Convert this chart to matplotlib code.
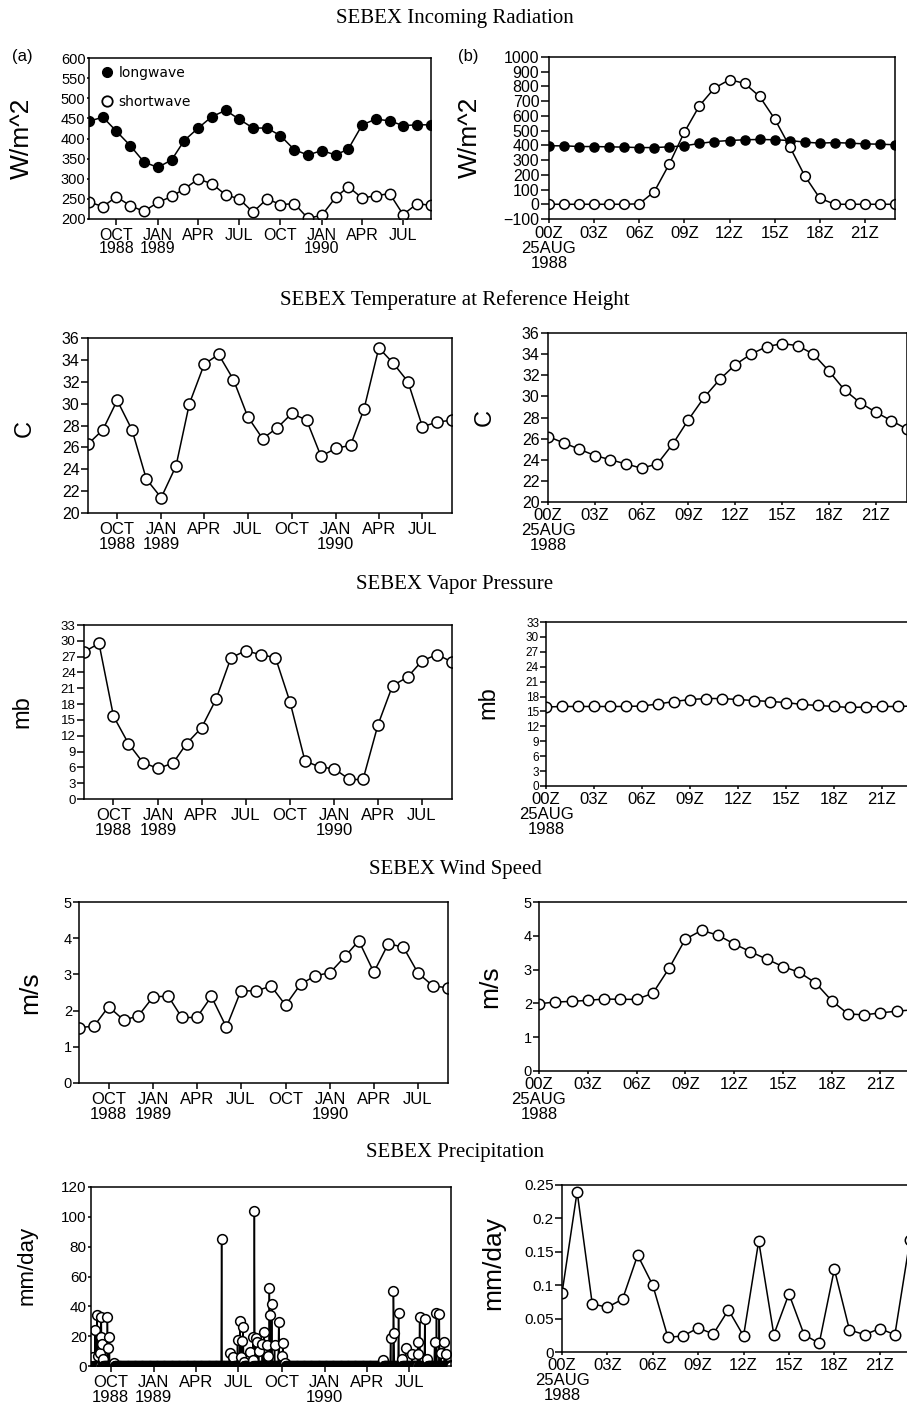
import numpy as np
import matplotlib.pyplot as plt
from matplotlib.lines import Line2D
from matplotlib.ticker import FuncFormatter

W, H = 907, 1411

plt.rcParams['font.family'] = ['Liberation Sans', 'DejaVu Sans']

# monthly means, Aug 1988 - Sep 1990
months = np.arange('1988-08', '1990-10', dtype='datetime64[M]').astype('datetime64[D]')
# hourly means for 25 Aug 1988
hours = np.arange(24)

longwave_mon = [443, 453, 418, 382, 342, 328, 347, 395, 426, 454, 470, 448, 426,
                426, 407, 372, 359, 370, 359, 374, 434, 448, 444, 432, 434, 434]
shortwave_mon = [242, 231, 255, 233, 219, 241, 256, 275, 299, 288, 260, 250, 217,
                 250, 236, 238, 202, 209, 254, 280, 252, 258, 263, 211, 238, 234]
longwave_hr = [397, 397, 392, 392, 390, 388, 385, 385, 390, 397, 413, 426,
               433, 438, 440, 438, 433, 422, 415, 419, 415, 410, 408, 404]
shortwave_hr = [0, 0, 0, 0, 0, 0, 3, 86, 274, 490, 669, 789,
                846, 821, 732, 580, 392, 193, 41, 0, 0, 0, 0, 0]

temp_mon = [26.3, 27.6, 30.3, 27.6, 23.1, 21.4, 24.3, 30.0, 33.6, 34.5, 32.2, 28.8, 26.8,
            27.8, 29.1, 28.5, 25.2, 25.9, 26.2, 29.5, 35.1, 33.7, 32.0, 27.9, 28.3, 28.5]
temp_hr = [26.2, 25.6, 25.0, 24.4, 24.0, 23.6, 23.2, 23.6, 25.5, 27.8, 29.9, 31.6,
           33.0, 34.0, 34.7, 35.0, 34.8, 34.0, 32.4, 30.6, 29.4, 28.5, 27.7, 26.9]

vapor_mon = [27.9, 29.5, 15.7, 10.5, 6.9, 5.8, 6.8, 10.5, 13.5, 18.9, 26.8, 28.1, 27.4,
             26.8, 18.4, 7.2, 6.1, 5.7, 3.7, 3.7, 14.1, 21.5, 23.1, 26.2, 27.4, 26.0]
vapor_hr = [15.9, 16.0, 16.0, 16.0, 16.0, 16.0, 16.1, 16.5, 17.0, 17.4, 17.6, 17.6,
            17.4, 17.2, 17.0, 16.8, 16.4, 16.2, 16.0, 15.8, 15.9, 16.0, 16.0, 16.1]

wind_mon = [1.53, 1.57, 2.11, 1.74, 1.85, 2.38, 2.40, 1.81, 1.81, 2.39, 1.54, 2.55, 2.54,
            2.68, 2.15, 2.73, 2.96, 3.05, 3.50, 3.93, 3.06, 3.85, 3.75, 3.04, 2.68, 2.63]
wind_hr = [1.99, 2.04, 2.06, 2.09, 2.13, 2.12, 2.12, 2.30, 3.04, 3.90, 4.16, 4.02,
           3.76, 3.53, 3.31, 3.09, 2.92, 2.61, 2.08, 1.69, 1.66, 1.72, 1.77, 1.81]

precip_hr = [0.088, 0.240, 0.072, 0.067, 0.079, 0.145, 0.100, 0.022, 0.024, 0.036, 0.027, 0.063,
             0.024, 0.166, 0.026, 0.087, 0.026, 0.013, 0.124, 0.033, 0.026, 0.035, 0.026, 0.168]

# daily rain events (all other days dry)
rain_dates = ['1988-08-25', '1988-08-29', '1988-09-02', '1988-09-05', '1988-09-09', '1988-09-10',
              '1988-09-11', '1988-09-13', '1988-09-14', '1988-09-24', '1988-09-25', '1988-09-28',
              '1988-10-09',
              '1989-05-26', '1989-06-12', '1989-06-20', '1989-06-29', '1989-07-04', '1989-07-06',
              '1989-07-08', '1989-07-11', '1989-07-12', '1989-07-25', '1989-07-31', '1989-08-01',
              '1989-08-04', '1989-08-08', '1989-08-10', '1989-08-13', '1989-08-21', '1989-08-25',
              '1989-09-01', '1989-09-02', '1989-09-05', '1989-09-07', '1989-09-10', '1989-09-16',
              '1989-09-25', '1989-10-03', '1989-10-04', '1989-10-09',
              '1990-05-06', '1990-05-22', '1990-05-28', '1990-05-29', '1990-06-08', '1990-06-15',
              '1990-06-23', '1990-07-07', '1990-07-19', '1990-07-20', '1990-07-23', '1990-08-03',
              '1990-08-08', '1990-08-24', '1990-08-28', '1990-09-03', '1990-09-06', '1990-09-14',
              '1990-09-18', '1990-09-27']
rain_mm = [6, 24, 34, 7, 9, 19.5,
           33, 15, 5, 33, 12, 19.5,
           2,
           85, 9, 6, 17.7, 30, 6,
           17, 26, 3, 9.4, 4, 19.5,
           104, 19, 16, 10, 15, 23,
           14, 7, 52, 34, 41.5, 14,
           29.6, 6.5, 15.5, 2,
           4.3, 19, 50, 21.8, 35.7, 5,
           12.4, 8, 16, 8, 33, 31.2,
           4.5, 16, 35.7, 34.7, 9, 16,
           8, 0.5]

days = np.arange('1988-08-20', '1990-09-29', dtype='datetime64[D]')
precip_day = np.zeros(len(days))
precip_day[np.searchsorted(days, np.array(rain_dates, dtype='datetime64[D]'))] = rain_mm

mon_ticks = np.array(['1988-10-01', '1989-01-01', '1989-04-01', '1989-07-01',
                      '1989-10-01', '1990-01-01', '1990-04-01', '1990-07-01'], dtype='datetime64[D]')
mon_labels = ['OCT\n1988', 'JAN\n1989', 'APR', 'JUL', 'OCT', 'JAN\n1990', 'APR', 'JUL']
hr_ticks = [0, 3, 6, 9, 12, 15, 18, 21]
hr_labels = ['00Z\n25AUG\n1988', '03Z', '06Z', '09Z', '12Z', '15Z', '18Z', '21Z']

fig = plt.figure(figsize=(W / 100, H / 100), dpi=100)


def panel(box, ylim, ystep, ylabel, lab_xy, lab_size, ysize=10.5, xsize=12,
          ylen=5, xlen=4, xpad=2.5, lsp=1.0, hourly=False):
    left, top, right, bottom = box
    ax = fig.add_axes([left / W, 1 - bottom / H, (right - left) / W, (bottom - top) / H])
    for sp in ax.spines.values():
        sp.set_linewidth(1.1)
    ax.set_ylim(*ylim)
    ax.set_yticks(np.arange(ylim[0], ylim[1] + ystep / 2, ystep))
    ax.yaxis.set_major_formatter(FuncFormatter(lambda v, p: f'{round(v, 3):g}'.replace('-', '\u2212')))
    ax.tick_params(axis='y', direction='out', length=ylen, width=1.1, pad=1, labelsize=ysize)
    ax.tick_params(axis='x', direction='out', length=xlen, width=1.1, pad=xpad, labelsize=xsize)
    if hourly:
        ax.set_xlim(0, 23)
        ax.set_xticks(hr_ticks)
        ax.set_xticklabels(hr_labels, linespacing=lsp)
    else:
        ax.set_xticks(mon_ticks)
        ax.set_xticklabels(mon_labels, linespacing=lsp)
    fig.text(lab_xy[0] / W, 1 - lab_xy[1] / H, ylabel, rotation=90, ha='center', va='center',
             fontsize=lab_size)
    return ax


def title(text, y):
    fig.text(455 / W, 1 - y / H, text, ha='center', va='center', fontsize=15,
             family='Liberation Serif')


open_style = dict(color='black', lw=1.1, marker='o', mfc='white', mec='black', mew=1.1)
full_style = dict(color='black', lw=1.1, marker='o', mfc='black', mec='black', mew=1.1)

# --- incoming radiation ---
title('SEBEX Incoming Radiation', 18)
ax = panel((89, 58, 431, 219), (200, 600), 50, 'W/m^2', (22, 138), 19, ysize=10.5, xsize=11.5,
           ylen=1.5, lsp=0.85)
ax.set_xlim(months[0], months[-1])
ax.plot(months, longwave_mon, ms=7, **full_style)
ax.plot(months, shortwave_mon, ms=7.5, **open_style)
handles = [Line2D([], [], ls='none', marker='o', ms=7, mfc='black', mec='black'),
           Line2D([], [], ls='none', marker='o', ms=7.5, mfc='white', mec='black', mew=1.3)]
ax.legend(handles, ['longwave', 'shortwave'], loc='upper left', bbox_to_anchor=(0.015, 1.0),
          frameon=False, handlelength=0.6, handletextpad=0.55, labelspacing=1.05,
          borderaxespad=0.2, prop={'family': 'DejaVu Sans', 'size': 10})
fig.text(22 / W, 1 - 56 / H, '(a)', ha='center', va='center', fontsize=12)

ax = panel((549, 57, 895, 219), (-100, 1000), 100, 'W/m^2', (470, 137), 19, ysize=11.5,
           ylen=6, xlen=3, xpad=2, hourly=True)
ax.plot(hours, longwave_hr, ms=6.5, **full_style)
ax.plot(hours, shortwave_hr, ms=7, **open_style)
fig.text(468 / W, 1 - 57 / H, '(b)', ha='center', va='center', fontsize=12)

# --- temperature ---
title('SEBEX Temperature at Reference Height', 300)
ax = panel((88, 338, 452, 513), (20, 36), 2, 'C', (25, 428), 17, ysize=11.5, ylen=5)
ax.set_xlim(months[0], months[-1])
ax.plot(months, temp_mon, ms=8, **open_style)

ax = panel((548, 333, 907, 502), (20, 36), 2, 'C', (485, 417), 17, ysize=11.5,
           ylen=5, xlen=2, xpad=2.5, hourly=True)
ax.plot(hours, temp_hr, ms=7.5, **open_style)

# --- vapor pressure ---
title('SEBEX Vapor Pressure', 584)
ax = panel((84, 625, 452, 799), (0, 33), 3, 'mb', (22, 712), 17, ysize=9.5, ylen=5)
ax.set_xlim(months[0], months[-1])
ax.plot(months, vapor_mon, ms=8, **open_style)

ax = panel((546, 622, 914, 786), (0, 33), 3, 'mb', (488, 703), 17, ysize=8.5,
           ylen=4, xlen=2, xpad=2.5, hourly=True)
ax.plot(hours, vapor_hr, ms=7.5, **open_style)

# --- wind speed ---
title('SEBEX Wind Speed', 869)
ax = panel((79, 902, 448, 1083), (0, 5), 1, 'm/s', (30, 993), 19, ysize=10.5, ylen=4)
ax.set_xlim(months[0], months[-1])
ax.plot(months, wind_mon, ms=8, **open_style)

ax = panel((539, 902, 913, 1071), (0, 5), 1, 'm/s', (490, 987), 19, ysize=10.5,
           ylen=4, xlen=2, xpad=2.5, hourly=True)
ax.plot(hours, wind_hr, ms=7.5, **open_style)

# --- precipitation ---
title('SEBEX Precipitation', 1153)
ax = panel((91, 1187, 451, 1366), (0, 120), 20, 'mm/day', (27, 1265), 16, ysize=11, ylen=2)
ax.set_xlim(days[0], days[-1])
ax.plot(days, precip_day, ms=7, **open_style)

ax = panel((562, 1185, 910, 1352), (0, 0.25), 0.05, 'mm/day', (493, 1263), 19, ysize=11,
           ylen=5, xlen=2, xpad=2.5, hourly=True)
ax.plot(hours, precip_hr, ms=7.5, **open_style)

fig.savefig('out.png', dpi=100)
